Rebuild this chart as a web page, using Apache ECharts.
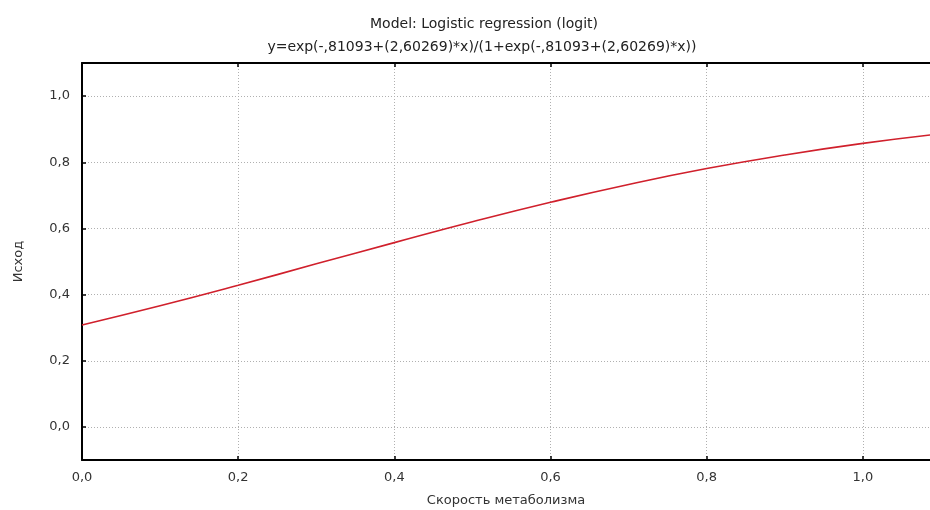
<!DOCTYPE html>
<html>
<head>
<meta charset="utf-8">
<script src="https://cdn.jsdelivr.net/npm/echarts@6/dist/echarts.min.js"></script>
<style>
html,body{margin:0;padding:0;background:#fff;}
#c{width:930px;height:510px;}
</style>
</head>
<body>
<div id="c"></div>
<script>
// Data
var xValues = [0, 0.1, 0.2, 0.3, 0.4, 0.5, 0.6, 0.7, 0.8, 0.9, 1.0, 1.1];
var yValues = [0.308, 0.366, 0.428, 0.493, 0.557, 0.620, 0.679, 0.733, 0.781, 0.822, 0.857, 0.886];
var xTicks = [0, 0.2, 0.4, 0.6, 0.8, 1.0];
var yTicks = [0, 0.2, 0.4, 0.6, 0.8, 1.0];
var titleLine1 = 'Model: Logistic regression (logit)';
var titleLine2 = 'y=exp(-,81093+(2,60269)*x)/(1+exp(-,81093+(2,60269)*x))';
var xName = 'Скорость метаболизма';
var yName = 'Исход';

var FONT = 'DejaVu Sans';
function fmt(v){ return v.toFixed(1).replace('.', ','); }

var points = xValues.map(function(x, i){ return [x, yValues[i]]; });

var chart = echarts.init(document.getElementById('c'), null, {renderer: 'canvas'});
var gridLine = {show: true, lineStyle: {color: '#b0b0b0', type: [1, 2], width: 1}};
var axisLine = {show: true, onZero: false, lineStyle: {color: '#000', width: 2}};
chart.setOption({
  animation: false,
  backgroundColor: '#fff',
  title: [
    {text: titleLine1, left: 479, top: 12, textAlign: 'center',
     textStyle: {fontFamily: FONT, fontSize: 14, fontWeight: 'normal', color: '#222'}},
    {text: titleLine2, left: 477, top: 35, textAlign: 'center',
     textStyle: {fontFamily: FONT, fontSize: 14, fontWeight: 'normal', color: '#222'}}
  ],
  grid: {left: 82, top: 63, right: 0, height: 397, containLabel: false, outerBoundsMode: 'none'},
  xAxis: [
    {type: 'value', min: 0, max: 1.086, position: 'bottom',
     name: xName, nameLocation: 'middle', nameGap: 34,
     nameTextStyle: {fontFamily: FONT, fontSize: 13, color: '#333'},
     axisLine: axisLine,
     axisTick: {show: true, inside: true, length: 4, customValues: xTicks, lineStyle: {color: '#000', width: 1.5}},
     axisLabel: {customValues: xTicks, formatter: fmt, margin: 11, fontFamily: FONT, fontSize: 13, color: '#333'},
     splitLine: gridLine},
    {type: 'value', min: 0, max: 1.086, position: 'top',
     axisLine: axisLine,
     axisTick: {show: true, inside: true, length: 4, customValues: xTicks, lineStyle: {color: '#000', width: 1.5}},
     axisLabel: {show: false},
     splitLine: {show: false}}
  ],
  yAxis: [
    {type: 'value', min: -0.1, max: 1.1, position: 'left',
     name: yName, nameLocation: 'middle', nameGap: 57, nameRotate: 90,
     nameTextStyle: {fontFamily: FONT, fontSize: 13, color: '#333'},
     axisLine: axisLine,
     axisTick: {show: true, inside: true, length: 4, customValues: yTicks, lineStyle: {color: '#000', width: 1.5}},
     axisLabel: {customValues: yTicks, formatter: fmt, margin: 12, fontFamily: FONT, fontSize: 13, color: '#333'},
     splitLine: gridLine}
  ],
  series: [
    {type: 'line', xAxisIndex: 0, yAxisIndex: 0, data: points, smooth: true,
     showSymbol: false, symbol: 'none', clip: true,
     lineStyle: {color: '#d0202c', width: 1.6}}
  ]
});
</script>
</body>
</html>
